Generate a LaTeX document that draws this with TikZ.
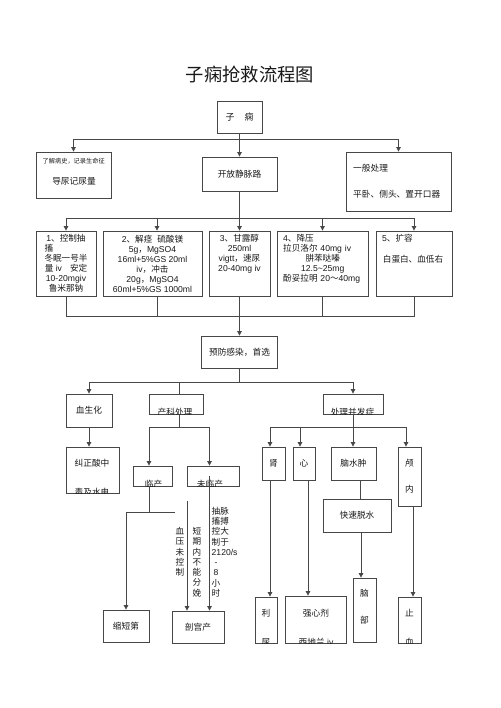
\documentclass[tikz,border=0pt]{standalone}
\usepackage{fontspec}
\setmainfont{Liberation Sans}
\newfontfamily\cjk{Noto Sans CJK SC}
\usetikzlibrary{arrows.meta}
\XeTeXinterchartokenstate=1
\chardef\cjkcls=10
\newcount\cjkcnt
\cjkcnt="4E00
\loop\XeTeXcharclass\cjkcnt=\cjkcls\ifnum\cjkcnt<"9FFF\advance\cjkcnt by 1\repeat
\cjkcnt="3000
\loop\XeTeXcharclass\cjkcnt=\cjkcls\ifnum\cjkcnt<"303F\advance\cjkcnt by 1\repeat
\cjkcnt="FF00
\loop\XeTeXcharclass\cjkcnt=\cjkcls\ifnum\cjkcnt<"FFEF\advance\cjkcnt by 1\repeat
\XeTeXinterchartoks 0 \cjkcls={\cjk}
\XeTeXinterchartoks 4095 \cjkcls={\cjk}
\XeTeXinterchartoks \cjkcls 0={\rmfamily}
\XeTeXinterchartoks \cjkcls 4095={\rmfamily}
\newcommand\fsz[2]{\fontsize{#1pt}{#2pt}\selectfont}
\definecolor{linec}{gray}{0.28}
\definecolor{textc}{gray}{0.1}
\newcommand\cliptext[4]{\begin{scope}\clip (#1.south west) rectangle (#1.north east);\node[txt] (#2) at #3 {#4};\end{scope}}
\begin{document}
\begin{tikzpicture}[x=1pt,y=-1pt,
  box/.style={draw=linec,line width=0.8pt,rectangle,inner sep=0pt,text=textc,font=\fsz{8.7}{10}},
  txt/.style={inner sep=0pt,text=textc,font=\fsz{8.7}{10}},
  ln/.style={draw=linec,line width=0.8pt},
  arr/.style={draw=linec,line width=0.8pt,-{Triangle[length=4.5pt,width=4.5pt]}}]
\useasboundingbox (0,0) rectangle (500,708);
\fill[white] (0,0) rectangle (500,708);
% title
\node[txt,font=\fsz{18.3}{20}] (title) at (250,74) {子痫抢救流程图};
% level 1
\node[box,font=\fsz{9}{10},minimum width=45pt,minimum height=32pt] (zx) at (239.5,117) {子\hspace{10pt}痫};
\node[box,minimum width=75pt,minimum height=46pt] (lj) at (73.5,175) {};
\node[txt,font=\fsz{6.2}{7},anchor=west] (ljt1) at (42.5,161) {了解病史，记录生命征};
\node[txt] (ljt2) at (74,181) {导尿记尿量};
\node[box,minimum width=75pt,minimum height=34pt] (kf) at (239.5,174) {开放静脉路};
\node[box,minimum width=105pt,minimum height=59pt] (yb) at (398.5,181.5) {};
\node[txt,anchor=west] (ybt1) at (353,168) {一般处理};
\node[txt,anchor=west] (ybt2) at (353,194) {平卧、侧头、置开口器};
\coordinate (j1) at (239.5,139);
\draw[ln] (zx.south) -- (j1);
\draw[arr] (j1) -| (lj.north);
\draw[arr] (j1) -- (kf.north);
\draw[arr] (j1) -| (yb.north);
% level 2
\node[box,font=\fsz{8.6}{10},align=center,minimum width=60pt,minimum height=65pt] (m1) at (66,263.5)
 {1、控制抽\\\makebox[43pt][l]{搐}\\冬眠一号半\\量 iv\hspace{8pt}安定\\10-20mgiv\\鲁米那钠};
\node[box,font=\fsz{8.6}{10},align=center,minimum width=99pt,minimum height=65pt] (m2) at (152.5,263.5)
 {2、解痉\hspace{5pt}硫酸镁\\5g，MgSO4\\16ml+5\%GS 20ml\\iv，冲击\\20g，MgSO4\\60ml+5\%GS 1000ml};
\node[box,minimum width=61pt,minimum height=65pt] (m3) at (239.5,263.5) {};
\node[txt,font=\fsz{8.6}{10},align=center,anchor=north] (m3t) at (239.5,234) {3、甘露醇\\250ml\\vigtt，速尿\\20-40mg iv};
\node[box,minimum width=91pt,minimum height=65pt] (m4) at (322.5,263.5) {};
\node[txt,font=\fsz{8.6}{10},align=left,text width=79pt,anchor=north west] (m4t) at (283,234)
 {4、降压\\拉贝洛尔 40mg iv\\\makebox[79pt]{肼苯哒嗪}\\\makebox[79pt]{12.5\textasciitilde 25mg}\\酚妥拉明 20～40mg};
\node[box,minimum width=76pt,minimum height=65pt] (m5) at (414,263.5) {};
\node[txt,font=\fsz{8.6}{10},anchor=west] (m5t1) at (382,238) {5、扩容};
\node[txt,font=\fsz{8.6}{10}] (m5t2) at (413,259) {白蛋白、血低右};
\coordinate (j2) at (239.5,218);
\draw[ln] (kf.south) -- (j2);
\draw[arr] (j2) -| (m1.north);
\draw[arr] (j2) -| ([xshift=4.5pt]m2.north);
\draw[arr] (j2) -- (m3.north);
\draw[arr] (j2) -| (m4.north);
\draw[arr] (j2) -| (m5.north);
% join
\node[box,minimum width=76pt,minimum height=32pt] (yf) at (239.5,352) {预防感染，首选};
\coordinate (j3) at (239.5,316);
\draw[ln] (m1.south) -- (m1.south |- j3) -- (m5.south |- j3) -- (m5.south);
\draw[ln] ([xshift=4.5pt]m2.south) -- ([xshift=4.5pt]m2.south |- j3);
\draw[ln] (m3.south) -- (j3);
\draw[ln] (m4.south) -- (m4.south |- j3);
\draw[arr] (j3) -- (yf.north);
% level 3
\node[box,minimum width=46pt,minimum height=33pt] (xs) at (89,410.5) {血生化};
\node[box,minimum width=54pt,minimum height=20pt] (ck) at (176,404) {};
\cliptext{ck}{ckt}{(175,412.5)}{产科处理}
\node[box,minimum width=60pt,minimum height=20pt] (bf) at (353,404) {};
\cliptext{bf}{bft}{(352.5,412)}{处理并发症}
\coordinate (j4) at (239.5,382);
\draw[ln] (yf.south) -- (j4);
\draw[arr] (j4) -| (xs.north);
\draw[ln] (j4) -| ([xshift=3pt]ck.north);
\draw[arr] (j4) -| (bf.north);
% left branch
\node[box,minimum width=53pt,minimum height=46pt] (jz) at (92.5,470) {};
\node[txt] (jzt) at (92,463) {纠正酸中};
\cliptext{jz}{jzt2}{(92,492)}{毒及水电}
\draw[arr] (xs.south) -- (xs.south |- jz.north);
% obstetric branch
\node[box,minimum width=39pt,minimum height=20pt] (lc) at (152.5,476) {};
\cliptext{lc}{lct}{(153.5,484)}{临产}
\node[box,minimum width=52pt,minimum height=20pt] (wl) at (213,476) {};
\cliptext{wl}{wlt}{(210,484)}{未临产}
\coordinate (j5) at (179,427);
\draw[ln] ([xshift=3pt]ck.south) -- (j5);
\draw[arr] (j5) -| ([xshift=-3.5pt]lc.north);
\draw[arr] (j5) -| ([xshift=-3.5pt]wl.north);
\node[box,minimum width=46pt,minimum height=32pt] (sd) at (126,626) {缩短第};
\node[box,minimum width=52pt,minimum height=32pt] (pg) at (198,627) {剖宫产};
\coordinate (j6) at (149,512);
\coordinate (j6r) at (175,512);
\draw[ln] ([xshift=-3.5pt]lc.south) -- (j6);
\draw[arr] (j6r) -| (sd.north);
\coordinate (fv) at (187,501);
\draw[arr] (fv) -- (fv |- pg.north);
\draw[arr] ([xshift=-3.5pt]wl.center) -- ([xshift=-3.5pt]wl.center |- pg.north);
\node[txt,font=\fsz{8.6}{10.3},align=center,anchor=north] (lb1) at (180,527) {血\\压\\未\\控\\制};
\node[txt,font=\fsz{8.6}{10.3},align=center,anchor=north] (lb2) at (197,527) {短\\期\\内\\不\\能\\分\\娩};
\node[txt,font=\fsz{8.6}{10.25},align=left,anchor=north west] (lb3) at (211.5,507)
 {抽脉\\搐搏\\控大\\制于\\2120/s\\\makebox[8.6pt]{-}\\\makebox[8.6pt]{8}\\小\\时};
% complications branch
\node[box,minimum width=23pt,minimum height=33pt] (shen) at (273.5,463.5) {肾};
\node[box,minimum width=22pt,minimum height=33pt] (xin) at (304,463.5) {心};
\node[box,minimum width=45pt,minimum height=33pt] (nsz) at (353.5,463.5) {脑水肿};
\node[box,minimum width=23pt,minimum height=59pt] (lun) at (409.5,476.5) {};
\node[txt] (lunt1) at (409.5,463) {颅};
\node[txt] (lunt2) at (409.5,489) {内};
\coordinate (j7) at (353,427);
\draw[ln] (bf.south) -- (j7);
\draw[arr] (j7) -| ([xshift=-3.5pt]shen.north);
\draw[arr] (j7) -| ([xshift=-4pt]xin.north);
\draw[arr] (j7) -- (j7 |- nsz.north);
\draw[arr] (j7) -| ([xshift=-3.5pt]lun.north);
\node[box,minimum width=68pt,minimum height=33pt] (ks) at (357,515.5) {快速脱水};
\draw[ln] ([xshift=6.5pt]nsz.south) -- ([xshift=6.5pt]nsz.south |- ks.north);
\node[box,minimum width=23pt,minimum height=64pt] (nb) at (364.5,610) {};
\node[txt] (nbt1) at (364.5,593) {脑};
\node[txt] (nbt2) at (364.5,620) {部};
\draw[arr] ([xshift=4pt]ks.south) -- ([xshift=4pt]ks.south |- nb.north);
\node[box,minimum width=22pt,minimum height=46pt] (lnr) at (266,620) {};
\node[txt] (lnrt1) at (266,613) {利};
\cliptext{lnr}{lnrt2}{(266,642)}{尿}
\draw[arr] ([xshift=-3.5pt]shen.south) -- ([xshift=-3.5pt]shen.south |- lnr.north);
\node[box,minimum width=61pt,minimum height=47pt] (qx) at (315.5,619.5) {};
\node[txt] (qxt1) at (316,613) {强心剂};
\cliptext{qx}{qxt2}{(316,642)}{西地兰 iv}
\draw[arr] ([xshift=4pt]xin.south) -- ([xshift=4pt]xin.south |- qx.north);
\node[box,minimum width=23pt,minimum height=46pt] (zxu) at (409.5,620) {};
\node[txt] (zxut1) at (409.5,613) {止};
\cliptext{zxu}{zxut2}{(409.5,642)}{血}
\draw[arr] ([xshift=3.5pt]lun.south) -- ([xshift=3.5pt]lun.south |- zxu.north);
\end{tikzpicture}
\end{document}
